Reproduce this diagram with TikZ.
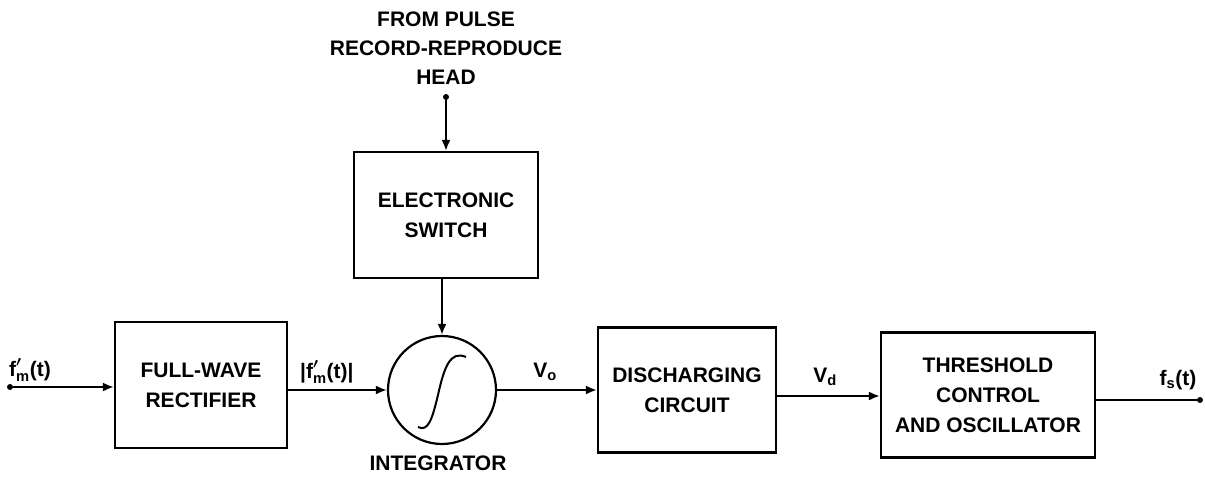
\documentclass[tikz,border=0pt]{standalone}
\usepackage{amsmath,bm}
\usepackage{fontspec}
\setmainfont{Liberation Sans}
\usetikzlibrary{arrows.meta}
\tikzset{
  blk/.style={draw, line width=2.2pt, rectangle, inner sep=0pt, align=center, font=\bfseries\fontsize{21}{30}\selectfont},
  lbl/.style={inner sep=0pt, align=center, font=\bfseries\fontsize{21}{29}\selectfont},
  conn/.style={line width=2pt, -{Latex[length=11pt,width=9pt]}},
  wire/.style={line width=2pt},
  dotc/.style={circle, fill, inner sep=0pt, minimum size=6pt}
}
\newcommand{\sig}{$\text{\bfseries f}^{\bm{\prime}}_{\text{\bfseries m}}$(t)}
\newcommand{\sub}[2]{$\text{\bfseries #1}_{\text{\bfseries #2}}$}
\begin{document}
\begin{tikzpicture}[x=1pt,y=-1pt]
\useasboundingbox (0,0) rectangle (1205,479);
% blocks
\node[blk, minimum width=172pt, minimum height=126pt] (fw) at (201,385) {FULL-WAVE\\RECTIFIER};
\node[blk, minimum width=184pt, minimum height=126pt] (sw) at (446,215) {ELECTRONIC\\SWITCH};
\node[draw, circle, line width=2.2pt, minimum size=108pt, inner sep=0pt] (int) at (442,390) {};
\node[blk, minimum width=178pt, minimum height=125pt] (dc) at (687,390) {DISCHARGING\\CIRCUIT};
\node[blk, minimum width=214pt, minimum height=125pt] (th) at (988,395) {THRESHOLD\\CONTROL\\AND OSCILLATOR};
% integral sign
\draw[line width=2pt] (418,427) .. controls (428,432) and (432,420) .. (438,395)
  .. controls (444,368) and (450,350) .. (466,357);
% labels
\node[lbl] (src) at (446,48) {FROM PULSE\\RECORD-REPRODUCE\\HEAD};
\node[lbl] (intl) at (438,463) {INTEGRATOR};
\node[lbl, anchor=west] (l1) at (9,370) {\sig};
\node[lbl, anchor=west] (l2) at (300,372) {|\sig|};
\node[lbl] (l3) at (545,372) {\sub{V}{o}};
\node[lbl] (l4) at (825,377) {\sub{V}{d}};
\node[lbl] (l5) at (1178,380) {\sub{f}{s}(t)};
% connection points
\node[dotc] (in) at (10,387) {};
\node[dotc] (out) at (1200,400) {};
\node[dotc] (top) at (446,97) {};
% connectors
\draw[conn] (in) -- (fw.west |- in);
\draw[conn] (fw.east |- int) -- (int.west);
\draw[conn] (top) -- (sw.north);
\draw[conn] (sw.south -| int) -- (int.north);
\draw[conn] (int.east) -- (dc.west |- int);
\draw[conn] (dc.east |- 0,396) -- (th.west |- 0,396);
\draw[wire] (th.east |- out) -- (out);
\end{tikzpicture}
\end{document}
